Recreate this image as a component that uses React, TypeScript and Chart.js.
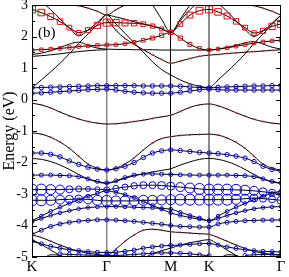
import React, { useEffect, useRef } from "react";
import { Chart, registerables } from "chart.js";
Chart.register(...registerables);

// k-path sample positions (K-Γ, Γ-M, M-K, K-Γ)
const kPoints = [0, 0.125, 0.25, 0.375, 0.5, 0.625, 0.75, 0.875, 1,
  1.1224, 1.2449, 1.3673, 1.4898, 1.6122, 1.7347, 1.857,
  1.985, 2.1135, 2.2418, 2.37,
  2.4904, 2.6108, 2.7312, 2.8516, 2.972, 3.0924, 3.2128, 3.333];
const symPositions = [0, 1, 1.857, 2.37, 3.333];
const symLabels = ["K", "Γ", "M", "K", "Γ"];
const yTickValues = [3, 2, 1, 0, -1, -2, -3, -4, -5];
const N = null;

// conduction bands
const bandA = [2.86,2.76,2.63,2.47,2.28,2.12,2.2,2.35,2.44, 2.44,2.43,2.42,2.39,2.33,2.24,2.13, 2.4,2.68,2.82,2.86, 2.78,2.65,2.48,2.28,2.11,2.18,2.32,2.4];
const sizeA = [5,4.6,4.2,3.8,3.4,3.2,3.6,4.4,5, 4.6,4.2,3.8,3.4,3,2.8,2.8, 3.4,4.2,4.8,5, 4.6,4.2,3.8,3.4,3.2,3.6,4.4,5];
const bandR2 = [1.57,1.58,1.6,1.62,1.65,1.68,1.7,1.72,1.73, 1.74,1.77,1.82,1.88,1.95,2.04,2.13, 1.95,1.75,1.62,1.57, 1.6,1.64,1.69,1.74,1.79,1.83,1.86,1.88];
const sizeR2 = [2.4,2.4,2.4,2.4,2.4,2.4,2.4,2.4,2.4, 2.4,2.4,2.4,2.6,2.8,3,3.2, 3,2.8,2.6,2.4, 2.4,2.4,2.4,2.4,2.4,2.4,2.4,2.4];
const bandE1 = [3.25,3.1,2.85,2.55,2.27,2.02,2.2,2.45,2.68, 2.62,2.55,2.47,2.4,2.33,2.25,2.13, 2.5,2.85,3.1,3.25, 3.05,2.8,2.5,2.22,2.0,2.18,2.42,2.68];
const bandT1 = [3.6,3.45,3.3,3.17,3.05,2.98,2.9,2.8,2.68, 2.85,3.0,3.15,3.3,3.45,3.55,3.6, 3.6,3.6,3.6,3.6, 3.45,3.3,3.17,3.05,2.98,2.9,2.8,2.68];
const bandD = [N,N,N,N,N,N,N,N,N, N,N,3.6,3.3,3.0,2.55,2.13, 2.55,3.0,3.4,3.7, N,N,N,N,N,N,N,N];
const bandL1 = [0.37,0.62,0.88,1.15,1.45,1.78,2.08,2.38,2.68, 2.4,2.1,1.8,1.5,1.2,0.95,0.78, 0.62,0.5,0.42,0.38, 0.62,0.88,1.15,1.45,1.78,2.08,2.38,2.68];
const bandL2 = [N,N,N,N,N,N,N,N,2.55, 2.2,1.94,1.75,1.58,1.42,1.27,1.15, 1.22,1.3,1.37,1.41, 1.43,1.46,1.48,1.5,1.52,1.54,1.56,1.58];
const bandB1 = [1.43,1.47,1.55,1.65,1.76,1.82,1.72,1.63,1.6, 1.59,1.59,1.58,1.58,1.58,1.57,1.57, 1.57,1.57,1.57,1.57, 1.6,1.65,1.72,1.8,1.84,1.76,1.66,1.6];
const bandB2 = [1.37,1.39,1.42,1.45,1.49,1.52,1.55,1.57,1.58, N,N,N,N,N,N,N, N,N,N,N, N,N,N,N,N,N,N,N];
const bandF1 = [0.37,0.38,0.39,0.4,0.41,0.42,0.43,0.44,0.44, 0.44,0.44,0.44,0.43,0.43,0.43,0.43, 0.42,0.4,0.38,0.37, 0.39,0.4,0.41,0.42,0.43,0.43,0.44,0.44];
const bandF2 = [0.2,0.21,0.23,0.25,0.27,0.29,0.31,0.32,0.33, 0.3,0.26,0.23,0.21,0.2,0.2,0.2, 0.23,0.27,0.31,0.33, 0.31,0.3,0.3,0.3,0.3,0.3,0.3,0.3];

// valence bands
const bandV1 = [-0.12,-0.17,-0.27,-0.4,-0.52,-0.62,-0.7,-0.75,-0.78, -0.77,-0.74,-0.7,-0.66,-0.6,-0.55,-0.5, -0.38,-0.25,-0.17,-0.14, -0.2,-0.3,-0.42,-0.53,-0.63,-0.7,-0.75,-0.78];
const bandV2 = [-1.06,-1.1,-1.2,-1.35,-1.55,-1.8,-2.05,-2.18,-2.24, -2.18,-2.05,-1.85,-1.6,-1.38,-1.24,-1.18, -1.14,-1.12,-1.11,-1.1, -1.13,-1.22,-1.36,-1.55,-1.8,-2.05,-2.18,-2.24];
const bandV3 = [-1.7,-1.7,-1.74,-1.82,-1.95,-2.06,-2.15,-2.21,-2.24, -2.2,-2.12,-2.0,-1.84,-1.7,-1.63,-1.6, -1.62,-1.65,-1.68,-1.7, -1.72,-1.75,-1.8,-1.86,-1.97,-2.12,-2.22,-2.27];
const bandV4 = [-1.87,-1.9,-1.97,-2.08,-2.22,-2.38,-2.52,-2.62,-2.66, -2.6,-2.5,-2.42,-2.36,-2.3,-2.25,-2.2, -2.08,-1.98,-1.9,-1.87, -1.9,-1.97,-2.08,-2.22,-2.38,-2.52,-2.62,-2.66];
const bandV5 = [-2.4,-2.4,-2.4,-2.41,-2.42,-2.45,-2.52,-2.6,-2.65, -2.58,-2.48,-2.4,-2.37,-2.36,-2.37,-2.38, -2.39,-2.4,-2.4,-2.4, -2.4,-2.4,-2.41,-2.42,-2.45,-2.52,-2.6,-2.65];
const bandV6 = [-2.86,-2.86,-2.86,-2.86,-2.85,-2.84,-2.84,-2.85,-2.87, -2.82,-2.78,-2.74,-2.72,-2.72,-2.73,-2.75, -2.78,-2.81,-2.84,-2.86, -2.86,-2.86,-2.87,-2.88,-2.9,-2.93,-2.96,-2.98];
const sizeV6 = [5.5,5.5,5,4.5,3.5,3,2.5,2.5,3, 3,3,3.2,3.5,3.5,4,4, 4.5,5,5.5,5.5, 5.5,5.5,5.5,5,4.5,4,3.5,3];
const bandV7 = [-3.2,-3.2,-3.2,-3.18,-3.17,-3.16,-3.17,-3.2,-3.22, -3.22,-3.22,-3.22,-3.2,-3.2,-3.19,-3.18, -3.18,-3.18,-3.18,-3.18, -3.18,-3.18,-3.17,-3.15,-3.13,-3.15,-3.17,-3.2];
const sizeV7 = [5.5,5.5,5,4.5,4,4,4.5,5,5.5, 5,5,5,5,5,5,5, 5.5,5.5,5.5,5.5, 5.5,5.5,5,4.5,4,3.5,3.5,4];
const bandV8 = [-3.85,-3.7,-3.55,-3.42,-3.3,-3.18,-3.07,-2.98,-2.9, -2.95,-3.02,-3.12,-3.24,-3.36,-3.48,-3.6, -3.68,-3.75,-3.8,-3.85, -3.7,-3.55,-3.42,-3.3,-3.18,-3.07,-2.98,-2.9];
const bandV9 = [-3.88,-3.78,-3.68,-3.6,-3.53,-3.47,-3.43,-3.41,-3.4, -3.4,-3.41,-3.42,-3.43,-3.44,-3.46,-3.48, -3.58,-3.68,-3.76,-3.85, -3.78,-3.68,-3.6,-3.53,-3.47,-3.43,-3.41,-3.4];
const bandV10 = [-4.28,-4.15,-4.03,-3.95,-3.9,-3.86,-3.84,-3.82,-3.82, -3.83,-3.85,-3.87,-3.9,-3.93,-3.96,-4.0, -4.03,-4.04,-4.05,-4.05, -3.95,-3.9,-3.87,-3.85,-3.84,-3.83,-3.83,-3.82];
const bandV11 = [-4.5,-4.58,-4.66,-4.72,-4.77,-4.8,-4.83,-4.85,-4.86, -4.85,-4.82,-4.78,-4.72,-4.68,-4.65,-4.63, -4.62,-4.6,-4.58,-4.57, -4.62,-4.68,-4.73,-4.77,-4.8,-4.82,-4.83,-4.84];
const bandV12 = [N,N,N,-4.9,-4.92,-4.93,-4.94,-4.95,-4.95, -4.95,-4.94,-4.92,-4.9,-4.88,-4.87,-4.87, -4.88,-4.9,-4.93,-4.96, N,N,N,-4.95,-4.93,-4.92,-4.92,-4.93];
const bandV13 = [-4.3,-4.38,-4.5,-4.62,-4.73,-4.82,-4.88,-4.92,-4.95, -4.75,-4.5,-4.3,-4.15,-4.12,-4.15,-4.2, -4.22,-4.24,-4.26,-4.28, -4.38,-4.5,-4.62,-4.73,-4.82,-4.88,-4.92,-4.95];
const bandV14 = [-4.45,-4.6,-4.78,-4.95,-5.1,N,N,N,N, N,N,N,-5.05,-4.9,-4.8,-4.72, -4.62,-4.55,-4.49,-4.45, -4.6,-4.78,-4.95,-5.1,N,N,N,N];
const bandV15 = [N,-5.1,-4.93,-4.95,-5.1,N,N,N,N, N,N,N,N,N,N,N, N,N,N,N, -5.1,-4.93,-4.95,-5.1,N,N,N,N];

type Kind = "line" | "red" | "blue" | "dots" | "mdots";
interface Band { e: (number | null)[]; kind: Kind; size?: number[] | number; }

const bands: Band[] = [
  { e: bandA, kind: "red", size: sizeA },
  { e: bandR2, kind: "red", size: sizeR2 },
  { e: bandF1, kind: "blue", size: 2.2 },
  { e: bandF2, kind: "blue", size: 2.2 },
  { e: bandV3, kind: "blue", size: 2.2 },
  { e: bandV5, kind: "blue", size: 2.0 },
  { e: bandV6, kind: "blue", size: sizeV6 },
  { e: bandV7, kind: "blue", size: sizeV7 },
  { e: bandV8, kind: "blue", size: 1.8 },
  { e: bandV9, kind: "blue", size: 1.8 },
  { e: bandV10, kind: "blue", size: 2.0 },
  { e: bandV11, kind: "blue", size: 2.0 },
  { e: bandV12, kind: "blue", size: 2.0 },
  { e: bandT1, kind: "dots" },
  { e: bandE1, kind: "line" },
  { e: bandD, kind: "line" },
  { e: bandL1, kind: "line" },
  { e: bandL2, kind: "dots" },
  { e: bandB1, kind: "line" },
  { e: bandB2, kind: "line" },
  { e: bandV1, kind: "mdots" },
  { e: bandV2, kind: "mdots" },
  { e: bandV4, kind: "line" },
  { e: bandV13, kind: "mdots" },
  { e: bandV14, kind: "line" },
  { e: bandV15, kind: "line" },
];

const SERIF = "'Liberation Serif', 'Times New Roman', serif";

export default function App() {
  const ref = useRef<HTMLCanvasElement | null>(null);
  useEffect(() => {
    const canvas = ref.current!;
    const datasets = bands.map((b) => {
      const data = kPoints.map((k, i) => ({ x: k, y: b.e[i] }));
      const base: any = {
        data,
        borderColor: "#000",
        borderWidth: 1,
        cubicInterpolationMode: "monotone",
        spanGaps: false,
        pointHitRadius: 0,
      };
      if (b.kind === "line") {
        base.pointRadius = 0;
      } else if (b.kind === "dots" || b.kind === "mdots") {
        base.pointRadius = 1;
        base.pointStyle = "circle";
        base.pointBorderWidth = 0;
        base.pointBackgroundColor = b.kind === "dots" ? "#ff2020" : "#c02060";
      } else if (b.kind === "red") {
        base.pointStyle = "rect";
        base.pointRadius = b.size;
        base.pointBorderColor = "#ff0000";
        base.pointBackgroundColor = "rgba(0,0,0,0)";
        base.pointBorderWidth = 1;
      } else {
        base.pointStyle = "circle";
        base.pointRadius = b.size;
        base.pointBorderColor = "#0000ff";
        base.pointBackgroundColor = "rgba(0,0,0,0)";
        base.pointBorderWidth = 1;
      }
      return base;
    });

    const frame = {
      id: "frame",
      afterDatasetsDraw(chart: any) {
        const { ctx, chartArea: a, scales } = chart;
        const y = scales.y;
        ctx.save();
        ctx.strokeStyle = "#000";
        ctx.lineWidth = 1;
        ctx.strokeRect(a.left + 0.5, a.top + 0.5, a.right - a.left - 1, a.bottom - a.top - 1);
        ctx.beginPath();
        for (let i = 0; i < yTickValues.length; i++) {
          const v = yTickValues[i];
          const py = Math.round(y.getPixelForValue(v)) + 0.5;
          ctx.moveTo(a.left, py); ctx.lineTo(a.left + 5, py);
          ctx.moveTo(a.right, py); ctx.lineTo(a.right - 5, py);
          if (i < yTickValues.length - 1) {
            const pm = Math.round(y.getPixelForValue(v - 0.5)) + 0.5;
            ctx.moveTo(a.left, pm); ctx.lineTo(a.left + 3, pm);
            ctx.moveTo(a.right, pm); ctx.lineTo(a.right - 3, pm);
          }
        }
        ctx.stroke();
        ctx.fillStyle = "#000";
        ctx.font = `15px ${SERIF}`;
        ctx.textBaseline = "middle";
        ctx.textAlign = "left";
        ctx.fillText("(b)", a.left + 6, y.getPixelForValue(2.1));
        ctx.restore();
      },
    };

    const chart = new Chart(canvas, {
      type: "line",
      data: { datasets },
      options: {
        animation: false,
        responsive: false,
        events: [],
        layout: { autoPadding: false, padding: { left: 0, right: 8, top: 5, bottom: 0 } },
        plugins: { legend: { display: false }, tooltip: { enabled: false } },
        scales: {
          x: {
            type: "linear",
            min: 0,
            max: 3.333,
            afterBuildTicks: (s: any) => { s.ticks = symPositions.map((v) => ({ value: v })); },
            afterFit: (s: any) => { s.height = 20; s.paddingLeft = 0; s.paddingRight = 0; },
            ticks: {
              autoSkip: false,
              maxRotation: 0,
              padding: 1,
              color: "#000",
              font: { family: SERIF, size: 15 },
              callback: (_v: any, i: number) => symLabels[i],
            },
            border: { display: false },
            grid: {
              drawTicks: false,
              color: (c: any) => {
                const v = c.tick ? c.tick.value : 0;
                if (Math.abs(v - 1) < 1e-3 || Math.abs(v - 2.37) < 1e-3) return "#8a8a8a";
                if (Math.abs(v - 1.857) < 1e-3) return "#000";
                return "rgba(0,0,0,0)";
              },
              lineWidth: (c: any) => {
                const v = c.tick ? c.tick.value : 0;
                if (Math.abs(v - 2.37) < 1e-3) return 2;
                if (Math.abs(v - 1) < 1e-3) return 1.5;
                return 1;
              },
            },
          },
          y: {
            type: "linear",
            min: -5,
            max: 3,
            afterBuildTicks: (s: any) => { s.ticks = yTickValues.map((v) => ({ value: v })); },
            afterFit: (s: any) => { s.width = 32; s.paddingTop = 0; s.paddingBottom = 0; },
            ticks: {
              padding: 4,
              color: "#000",
              font: { family: SERIF, size: 14 },
              callback: (v: any) => String(v),
            },
            title: {
              display: true,
              text: "Energy (eV)",
              color: "#000",
              font: { family: SERIF, size: 16 },
              padding: { top: 0, bottom: 0 },
            },
            border: { display: false },
            grid: { display: false, drawTicks: false },
          },
        },
      },
      plugins: [frame],
    } as any);
    return () => chart.destroy();
  }, []);

  return (
    <div style={{ position: "fixed", left: 0, top: 0, width: 289, height: 277, background: "#fff" }}>
      <canvas ref={ref} width={289} height={277} style={{ display: "block", width: 289, height: 277 }} />
    </div>
  );
}
